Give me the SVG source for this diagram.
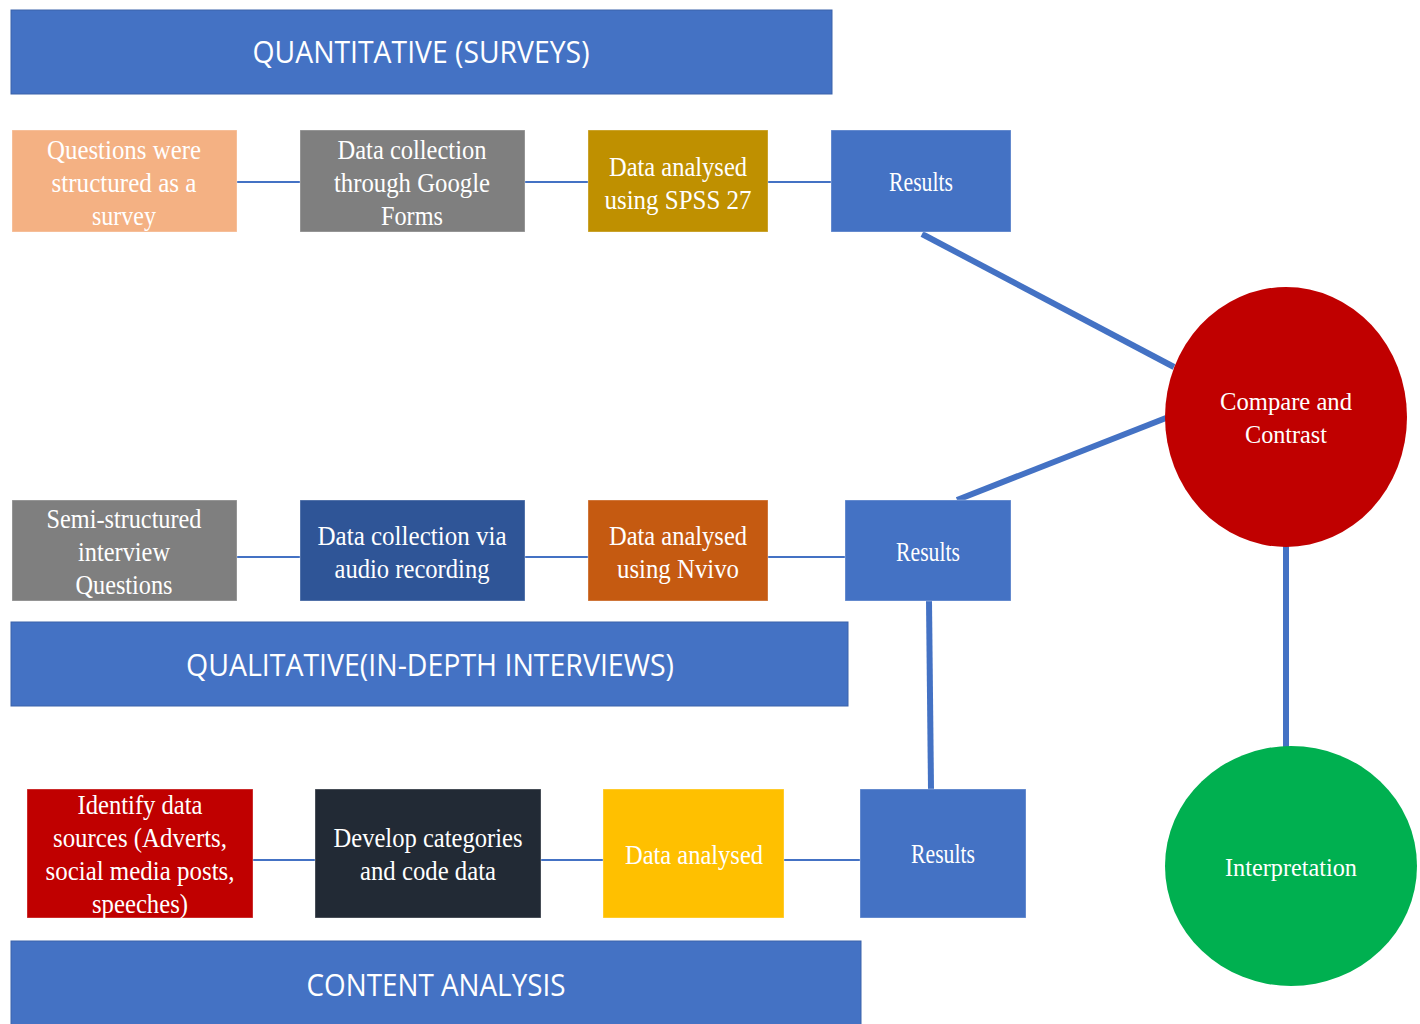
<svg xmlns="http://www.w3.org/2000/svg" width="1420" height="1024" viewBox="0 0 1420 1024">
<style>
.hdr{fill:#4472C4;stroke:#3A62AA;stroke-width:1}
.ht{font-family:"Open Sans","Liberation Sans",sans-serif;font-size:31px;fill:#fff;text-anchor:middle}
.bt{font-family:"Liberation Serif","Times New Roman",serif;font-size:27px;fill:#fff;text-anchor:middle}
.ct{font-family:"Liberation Serif","Times New Roman",serif;font-size:25px;fill:#fff;text-anchor:middle}
.thin{stroke:#4472C4;stroke-width:2;fill:none}
.thick{stroke:#4472C4;stroke-width:6;fill:none}
.box{stroke:#ffffff;stroke-opacity:0.35;stroke-width:1}
</style>
<rect width="1420" height="1024" fill="#fff"/>
<g id="connectors">
<line class="thin" x1="237" y1="182" x2="300" y2="182"/>
<line class="thin" x1="525" y1="182" x2="588" y2="182"/>
<line class="thin" x1="768" y1="182" x2="831" y2="182"/>
<line class="thin" x1="237" y1="557" x2="300" y2="557"/>
<line class="thin" x1="525" y1="557" x2="588" y2="557"/>
<line class="thin" x1="768" y1="557" x2="845" y2="557"/>
<line class="thin" x1="253" y1="860" x2="315" y2="860"/>
<line class="thin" x1="541" y1="860" x2="603" y2="860"/>
<line class="thin" x1="784" y1="860" x2="860" y2="860"/>
<line class="thick" x1="922" y1="234" x2="1174" y2="367"/>
<line class="thick" x1="957" y1="500" x2="1166" y2="418"/>
<line class="thick" x1="929" y1="601" x2="931" y2="789"/>
<line class="thick" x1="1286" y1="546" x2="1286" y2="748"/>
</g>
<g id="hdr-quant">
<rect class="hdr" x="11" y="10" width="821" height="84"/>
<text class="ht" x="421" y="63" textLength="337" lengthAdjust="spacingAndGlyphs">QUANTITATIVE (SURVEYS)</text>
</g>
<g id="hdr-qual">
<rect class="hdr" x="11" y="622" width="837" height="84"/>
<text class="ht" x="430" y="676" textLength="488" lengthAdjust="spacingAndGlyphs">QUALITATIVE(IN-DEPTH INTERVIEWS)</text>
</g>
<g id="hdr-content">
<rect class="hdr" x="11" y="941" width="850" height="90"/>
<text class="ht" x="436" y="996" textLength="259" lengthAdjust="spacingAndGlyphs">CONTENT ANALYSIS</text>
</g>
<g id="q1">
<rect class="box" x="12" y="130" width="225" height="102" fill="#F4B183"/>
<text class="bt" x="124" y="159" textLength="154" lengthAdjust="spacingAndGlyphs">Questions were</text>
<text class="bt" x="124" y="192" textLength="145" lengthAdjust="spacingAndGlyphs">structured as a</text>
<text class="bt" x="124" y="225" textLength="64" lengthAdjust="spacingAndGlyphs">survey</text>
</g>
<g id="q2">
<rect class="box" x="300" y="130" width="225" height="102" fill="#7F7F7F"/>
<text class="bt" x="412" y="159" textLength="149" lengthAdjust="spacingAndGlyphs">Data collection</text>
<text class="bt" x="412" y="192" textLength="156" lengthAdjust="spacingAndGlyphs">through Google</text>
<text class="bt" x="412" y="225" textLength="62" lengthAdjust="spacingAndGlyphs">Forms</text>
</g>
<g id="q3">
<rect class="box" x="588" y="130" width="180" height="102" fill="#BF9000"/>
<text class="bt" x="678" y="176" textLength="138" lengthAdjust="spacingAndGlyphs">Data analysed</text>
<text class="bt" x="678" y="209" textLength="147" lengthAdjust="spacingAndGlyphs">using SPSS 27</text>
</g>
<g id="q4">
<rect class="box" x="831" y="130" width="180" height="102" fill="#4472C4"/>
<text class="bt" x="921" y="191" textLength="64" lengthAdjust="spacingAndGlyphs">Results</text>
</g>
<g id="i1">
<rect class="box" x="12" y="500" width="225" height="101" fill="#7F7F7F"/>
<text class="bt" x="124" y="528" textLength="155" lengthAdjust="spacingAndGlyphs">Semi-structured</text>
<text class="bt" x="124" y="561" textLength="92" lengthAdjust="spacingAndGlyphs">interview</text>
<text class="bt" x="124" y="594" textLength="97" lengthAdjust="spacingAndGlyphs">Questions</text>
</g>
<g id="i2">
<rect class="box" x="300" y="500" width="225" height="101" fill="#2F5597"/>
<text class="bt" x="412" y="545" textLength="189" lengthAdjust="spacingAndGlyphs">Data collection via</text>
<text class="bt" x="412" y="578" textLength="155" lengthAdjust="spacingAndGlyphs">audio recording</text>
</g>
<g id="i3">
<rect class="box" x="588" y="500" width="180" height="101" fill="#C55A11"/>
<text class="bt" x="678" y="545" textLength="138" lengthAdjust="spacingAndGlyphs">Data analysed</text>
<text class="bt" x="678" y="578" textLength="122" lengthAdjust="spacingAndGlyphs">using Nvivo</text>
</g>
<g id="i4">
<rect class="box" x="845" y="500" width="166" height="101" fill="#4472C4"/>
<text class="bt" x="928" y="561" textLength="64" lengthAdjust="spacingAndGlyphs">Results</text>
</g>
<g id="c1">
<rect class="box" x="27" y="789" width="226" height="129" fill="#C00000"/>
<text class="bt" x="140" y="814" textLength="125" lengthAdjust="spacingAndGlyphs">Identify data</text>
<text class="bt" x="140" y="847" textLength="174" lengthAdjust="spacingAndGlyphs">sources (Adverts,</text>
<text class="bt" x="140" y="880" textLength="189" lengthAdjust="spacingAndGlyphs">social media posts,</text>
<text class="bt" x="140" y="913" textLength="96" lengthAdjust="spacingAndGlyphs">speeches)</text>
</g>
<g id="c2">
<rect class="box" x="315" y="789" width="226" height="129" fill="#222A35"/>
<text class="bt" x="428" y="847" textLength="189" lengthAdjust="spacingAndGlyphs">Develop categories</text>
<text class="bt" x="428" y="880" textLength="136" lengthAdjust="spacingAndGlyphs">and code data</text>
</g>
<g id="c3">
<rect class="box" x="603" y="789" width="181" height="129" fill="#FFC000"/>
<text class="bt" x="694" y="864" textLength="138" lengthAdjust="spacingAndGlyphs">Data analysed</text>
</g>
<g id="c4">
<rect class="box" x="860" y="789" width="166" height="129" fill="#4472C4"/>
<text class="bt" x="943" y="863" textLength="64" lengthAdjust="spacingAndGlyphs">Results</text>
</g>
<g id="compare">
<ellipse cx="1286" cy="417" rx="121" ry="130" fill="#C00000"/>
<text class="ct" x="1286" y="410" textLength="132" lengthAdjust="spacingAndGlyphs">Compare and</text>
<text class="ct" x="1286" y="443" textLength="82" lengthAdjust="spacingAndGlyphs">Contrast</text>
</g>
<g id="interpretation">
<ellipse cx="1291" cy="866" rx="126" ry="120" fill="#00B050"/>
<text class="ct" x="1291" y="876" textLength="132" lengthAdjust="spacingAndGlyphs">Interpretation</text>
</g>
</svg>
